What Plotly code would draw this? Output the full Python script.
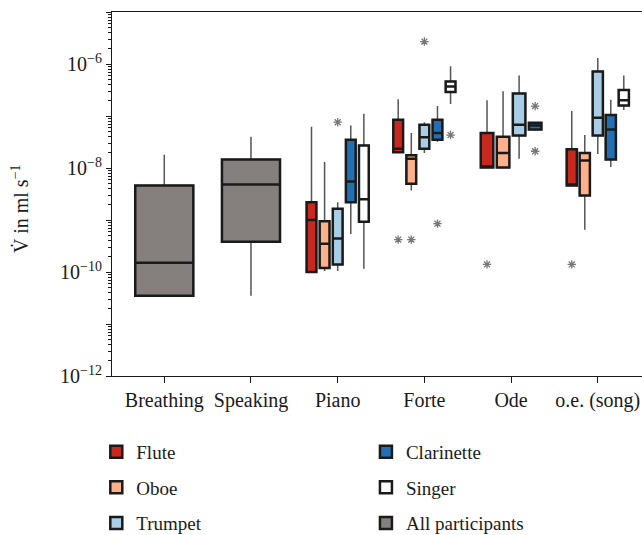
import plotly.graph_objects as go

categories = ["Breathing", "Speaking", "Piano", "Forte", "Ode", "o.e. (song)"]
instruments = ["Flute", "Oboe", "Trumpet", "Clarinette", "Singer"]
colors = {"Flute": "#c8281e", "Oboe": "#fdb08a", "Trumpet": "#a8cde4",
          "Clarinette": "#2270b3", "Singer": "#ffffff", "All participants": "#857f7e"}

# All participants (Breathing, Speaking)
all_lower = [3.5e-11, 3.5e-11]
all_q1 = [3.5e-11, 3.8e-10]
all_median = [1.5e-10, 4.8e-9]
all_q3 = [4.6e-9, 1.45e-8]
all_upper = [1.8e-8, 4.0e-8]

# Instrument groups: Piano, Forte, Ode, o.e. (song)
flute_lower = [1.0e-10, 2.0e-8, 1.02e-8, 4.6e-9]
flute_q1 = [1.0e-10, 2.0e-8, 1.02e-8, 4.6e-9]
flute_median = [1.0e-9, 2.35e-8, 1.02e-8, 4.6e-9]
flute_q3 = [2.2e-9, 8.5e-8, 4.7e-8, 2.3e-8]
flute_upper = [6.2e-8, 2.1e-7, 2.0e-7, 1.25e-7]

oboe_lower = [1.05e-10, 3.7e-9, 9.8e-9, 6.5e-10]
oboe_q1 = [1.2e-10, 5.0e-9, 1.02e-8, 2.95e-9]
oboe_median = [3.5e-10, 1.5e-8, 1.95e-8, 1.4e-8]
oboe_q3 = [9.5e-10, 1.75e-8, 4.0e-8, 1.95e-8]
oboe_upper = [1.3e-8, 4.7e-8, 3.0e-7, 4.3e-8]

trumpet_lower = [1.05e-10, 1.95e-8, 1.5e-8, 1.85e-8]
trumpet_q1 = [1.4e-10, 2.35e-8, 4.2e-8, 4.2e-8]
trumpet_median = [4.4e-10, 3.9e-8, 6.8e-8, 9.3e-8]
trumpet_q3 = [1.65e-9, 6.8e-8, 2.7e-7, 7.2e-7]
trumpet_upper = [2.2e-9, 7.6e-8, 6.0e-7, 1.3e-6]

clarinette_lower = [5.4e-10, 3.2e-8, 5.2e-8, 1.05e-8]
clarinette_q1 = [2.2e-9, 3.5e-8, 5.5e-8, 1.45e-8]
clarinette_median = [5.5e-9, 4.7e-8, 6.6e-8, 5.5e-8]
clarinette_q3 = [3.5e-8, 8.5e-8, 7.4e-8, 1.05e-7]
clarinette_upper = [6.6e-8, 1.55e-7, 7.4e-8, 2.05e-7]

singer_lower = [1.15e-10, 1.7e-7, None, 1.3e-7]
singer_q1 = [9.3e-10, 2.9e-7, None, 1.6e-7]
singer_median = [2.5e-9, 3.7e-7, None, 2.0e-7]
singer_q3 = [2.7e-8, 4.6e-7, None, 3.15e-7]
singer_upper = [1.1e-7, 9.1e-7, None, 6.0e-7]

# Outliers: (category, instrument, value)
outlier_cat = ["Piano", "Forte", "Forte", "Forte", "Forte", "Forte",
               "Ode", "Ode", "Ode", "o.e. (song)"]
outlier_inst = ["Trumpet", "Flute", "Oboe", "Trumpet", "Clarinette", "Singer",
                "Flute", "Clarinette", "Clarinette", "Flute"]
outlier_val = [7.6e-8, 4.2e-10, 4.2e-10, 2.7e-6, 8.5e-10, 4.3e-8,
               1.4e-10, 1.55e-7, 2.1e-8, 1.4e-10]

ytick_vals = [1e-12, 1e-11, 1e-10, 1e-9, 1e-8, 1e-7, 1e-6, 1e-5]
ytick_text = ["10<sup>\u221212</sup>", "", "10<sup>\u221210</sup>", "",
              "10<sup>\u22128</sup>", "", "10<sup>\u22126</sup>", ""]
y_title = "V\u0307 in ml s<sup>\u22121</sup>"

stats = {
    "Flute": (flute_lower, flute_q1, flute_median, flute_q3, flute_upper),
    "Oboe": (oboe_lower, oboe_q1, oboe_median, oboe_q3, oboe_upper),
    "Trumpet": (trumpet_lower, trumpet_q1, trumpet_median, trumpet_q3, trumpet_upper),
    "Clarinette": (clarinette_lower, clarinette_q1, clarinette_median, clarinette_q3, clarinette_upper),
    "Singer": (singer_lower, singer_q1, singer_median, singer_q3, singer_upper),
}
legend_rank = {"Flute": 1, "Oboe": 2, "Trumpet": 3, "Clarinette": 4, "Singer": 5,
               "All participants": 6}

FONT = "Liberation Serif"
EDGE = "#1a1a1a"
WHISK = "#555555"

# layout per category: (spacing, width)
group_geom = {"Piano": (0.151, 0.113), "Forte": (0.151, 0.113),
              "Ode": (0.185, 0.145), "o.e. (song)": (0.15, 0.118)}


def positions(cat):
    ci = categories.index(cat)
    present = [ins for ins in instruments if stats[ins][1][ci - 2] is not None]
    sp, w = group_geom[cat]
    n = len(present)
    return {ins: ci + (k - (n - 1) / 2) * sp for k, ins in enumerate(present)}, w


whisker_traces = []
box_traces = []

shown = set()
for cat in categories[2:]:
    ci = categories.index(cat)
    pos, w = positions(cat)
    for ins in instruments:
        if ins not in pos:
            continue
        lo, q1, me, q3, up = (s[ci - 2] for s in stats[ins])
        kw = dict(x=[pos[ins]], q1=[q1], median=[me], q3=[q3], width=w,
                  boxpoints=False, whiskerwidth=0, hoverinfo="skip")
        whisker_traces.append(go.Box(lowerfence=[lo], upperfence=[up],
                                     line=dict(color=WHISK, width=1.5), fillcolor="rgba(0,0,0,0)",
                                     showlegend=False, **kw))
        leg = "legend" if ins in ("Flute", "Oboe", "Trumpet") else "legend2"
        box_traces.append(go.Box(lowerfence=[q1], upperfence=[q3],
                                 line=dict(color=EDGE, width=2.5), fillcolor=colors[ins],
                                 name=ins, legendgroup=ins, legend=leg,
                                 legendrank=legend_rank[ins],
                                 showlegend=(ins not in shown), **kw))
        shown.add(ins)

# All participants
for i in range(2):
    kw = dict(x=[i], q1=[all_q1[i]], median=[all_median[i]], q3=[all_q3[i]], width=0.67,
              boxpoints=False, whiskerwidth=0, hoverinfo="skip")
    whisker_traces.append(go.Box(lowerfence=[all_lower[i]], upperfence=[all_upper[i]],
                                 line=dict(color=WHISK, width=1.5), fillcolor="rgba(0,0,0,0)",
                                 showlegend=False, **kw))
    box_traces.append(go.Box(lowerfence=[all_q1[i]], upperfence=[all_q3[i]],
                             line=dict(color=EDGE, width=2.5), fillcolor=colors["All participants"],
                             name="All participants", legendgroup="All participants",
                             legend="legend2", legendrank=legend_rank["All participants"],
                             showlegend=(i == 0), **kw))

fig = go.Figure(whisker_traces + box_traces)

# outliers
ox = []
for c, ins in zip(outlier_cat, outlier_inst):
    pos, _ = positions(c)
    ox.append(pos[ins])
fig.add_trace(go.Scatter(x=ox, y=outlier_val, mode="markers", showlegend=False,
                         marker=dict(symbol="asterisk-open", size=7, color="#777777",
                                     line=dict(color="#777777", width=1.3)),
                         hoverinfo="skip"))

minor_vals = []
for d in range(-12, -5):
    for k in range(2, 10):
        minor_vals.append(k * 10.0 ** d)

fig.update_layout(
    width=642, height=535,
    margin=dict(l=112, r=0, t=12, b=159, autoexpand=False),
    paper_bgcolor="white", plot_bgcolor="white",
    font=dict(family=FONT, size=19, color="#1a1a1a"),
    xaxis=dict(range=[-0.603, 5.51], tickmode="array", tickvals=list(range(6)),
               ticktext=categories, showgrid=False, zeroline=False,
               showline=True, linecolor="#1a1a1a", linewidth=1.2, mirror=True,
               ticks="outside", ticklen=6, tickcolor="#1a1a1a", tickangle=0,
               automargin=False,
               tickfont=dict(family=FONT, size=20)),
    yaxis=dict(type="log", range=[-12, -5], tickmode="array", tickvals=ytick_vals,
               ticktext=ytick_text, showgrid=False, zeroline=False,
               showline=True, linecolor="#1a1a1a", linewidth=1.2,
               ticks="outside", ticklen=5, tickcolor="#1a1a1a", automargin=False,
               tickfont=dict(family=FONT, size=20),
               minor=dict(tickmode="array", tickvals=minor_vals, ticks="outside",
                          ticklen=3, tickcolor="#1a1a1a", showgrid=False)),
    annotations=[dict(text=y_title, textangle=-90, xref="paper", yref="paper",
                      x=-0.1736, y=0.459, xanchor="center", yanchor="middle",
                      showarrow=False, font=dict(family=FONT, size=20, color="#1a1a1a"))],
    legend=dict(xref="container", yref="container", x=0.15, y=0.191,
                xanchor="left", yanchor="top", orientation="v",
                tracegroupgap=8, bgcolor="rgba(0,0,0,0)", traceorder="grouped",
                font=dict(family=FONT, size=19)),
    legend2=dict(xref="container", yref="container", x=0.57, y=0.191,
                 xanchor="left", yanchor="top", orientation="v",
                 tracegroupgap=8, bgcolor="rgba(0,0,0,0)", traceorder="grouped",
                 font=dict(family=FONT, size=19)),
    showlegend=True,
)

fig.write_html("out.html")
